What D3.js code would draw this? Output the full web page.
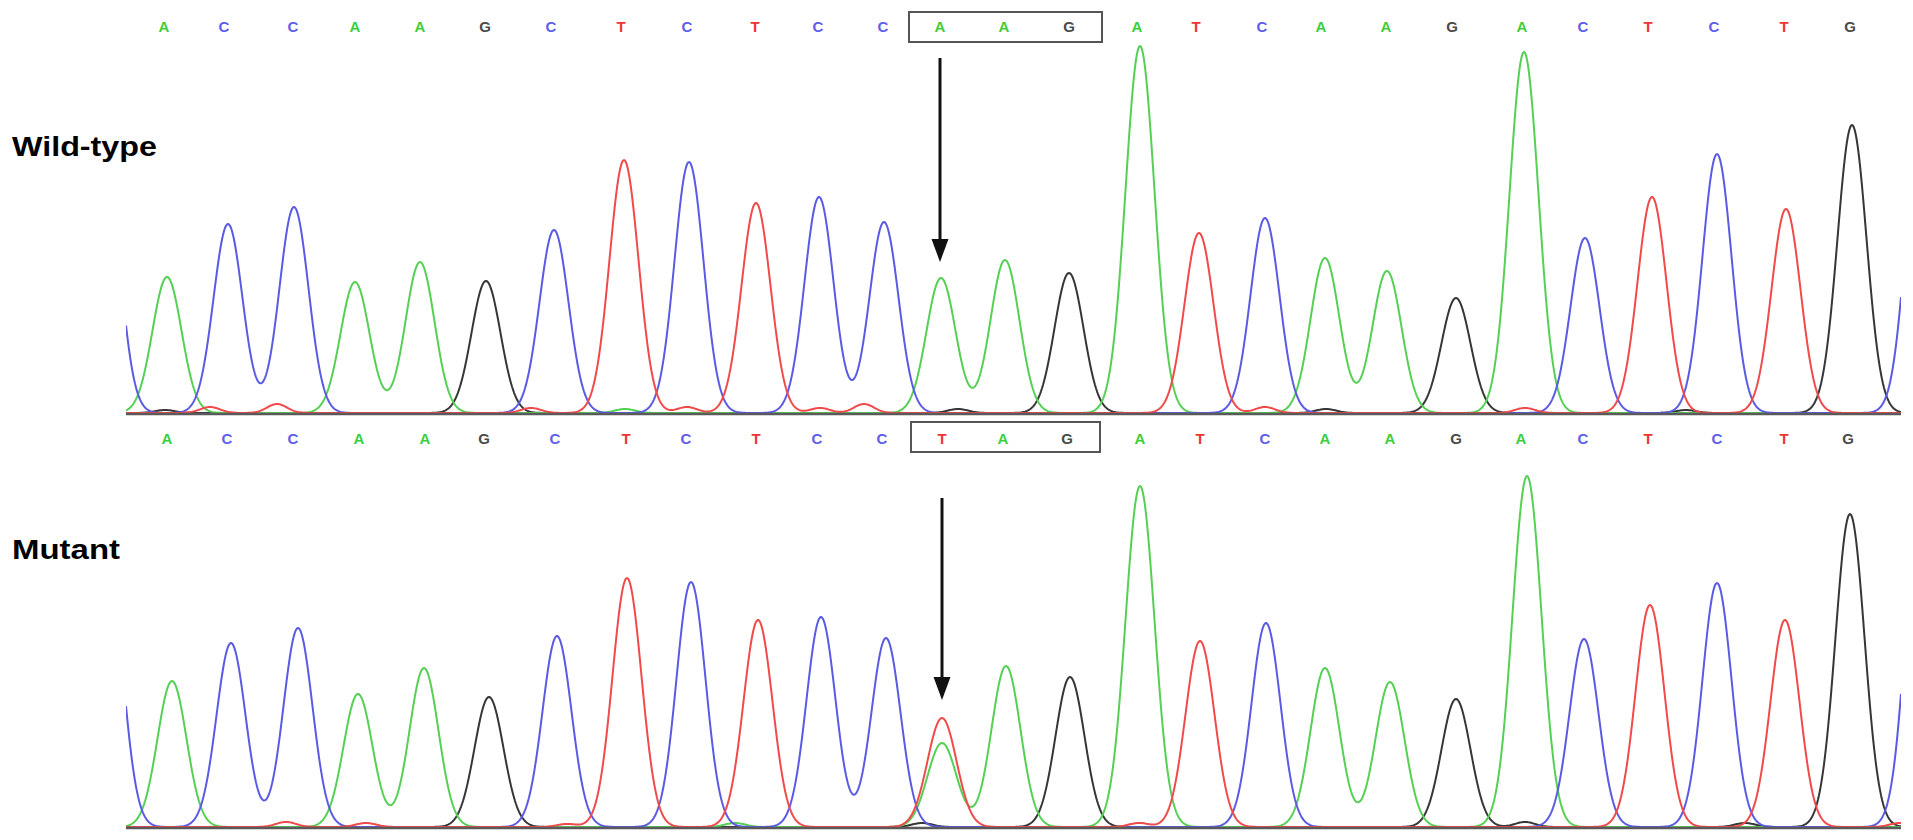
<!DOCTYPE html>
<html>
<head>
<meta charset="utf-8">
<style>
  body { margin: 0; background: #fff; }
  text { font-family: "Liberation Sans", Arial, sans-serif; }
</style>
</head>
<body>
<svg id="svg" width="1913" height="840"></svg>
<script src="https://cdn.jsdelivr.net/npm/d3@7"></script>
<script>

// base calls (same read, the mutant has A>T at call 13)
var wtBases  = "ACCAAGCTCTCCAAGATCAAGACTCTG".split("");
var mutBases = "ACCAAGCTCTCCTAGATCAAGACTCTG".split("");

// scan position of each base call label
var wtCalls  = [38, 98, 167, 229, 294, 359, 425, 495, 561, 629, 692, 757, 814, 878, 943, 1011, 1070, 1136, 1195, 1260, 1326, 1396, 1457, 1522, 1588, 1658, 1724];
var mutCalls = [41, 101, 167, 233, 299, 358, 429, 500, 560, 630, 691, 756, 816, 877, 941, 1014, 1074, 1139, 1199, 1264, 1330, 1395, 1457, 1522, 1591, 1658, 1722];

// scan position and signal height of the main peak under each call
var wtPeaks    = [41, 102, 168, 229, 294, 360, 428, 498, 563, 630, 693, 758, 815, 879, 943, 1014, 1073, 1139, 1199, 1261, 1330, 1398, 1459, 1526, 1591, 1660, 1726];
var wtHeights  = [136, 189, 206, 131, 151, 132, 183, 253, 251, 210, 216, 191, 135, 153, 140, 367, 180, 195, 155, 142, 115, 361, 175, 216, 259, 204, 288];
var mutPeaks   = [46, 105, 172, 232, 298, 363, 431, 501, 565, 632, 695, 760, 816, 880, 944, 1014, 1074, 1140, 1199, 1264, 1330, 1401, 1458, 1524, 1591, 1659, 1724];
var mutHeights = [146, 184, 199, 133, 159, 130, 191, 249, 245, 207, 210, 189, 109, 161, 150, 341, 186, 204, 159, 145, 128, 351, 188, 222, 244, 207, 313];

// extra peaks: [base, scan, height]  (edges of the window, heterozygous A under the T)
var wtExtra  = [["C", -21, 250], ["C", 1795, 300]];
var mutExtra = [["C", -18, 261], ["C", 1795, 345], ["A", 816, 84]];

// small background bumps: [base, scan, height]
var wtNoise  = [["T", 84, 6], ["T", 151, 9], ["G", 39, 3], ["T", 405, 5], ["A", 499, 4], ["T", 561, 6],
                ["T", 694, 5], ["T", 738, 9], ["G", 832, 4], ["T", 1139, 6], ["G", 1200, 4], ["T", 1399, 5], ["G", 1560, 3]];
var mutNoise = [["T", 160, 5], ["T", 240, 4], ["T", 441, 3], ["A", 609, 4], ["G", 796, 4], ["T", 1013, 4],
                ["G", 1399, 5], ["G", 1619, 4], ["T", 1774, 4]];

var peakWidth = 14.5, noiseWidth = 10;
var scanMax = 1775;

var baseColor  = {A: "#3ccf3c", C: "#5e5eea", G: "#4a4a4a", T: "#ee3434"};
var traceColor = {A: "#55d055", C: "#5a5ae4", G: "#363636", T: "#f04a4a"};

var panels = [
  {label: "Wild-type", bases: wtBases, calls: wtCalls, peaks: wtPeaks, heights: wtHeights, extra: wtExtra, noise: wtNoise,
   base: 413, letterY: 27, boxY: 12, arrowTop: 58, arrowTip: 262, labelY: 156, labelLen: 145},
  {label: "Mutant", bases: mutBases, calls: mutCalls, peaks: mutPeaks, heights: mutHeights, extra: mutExtra, noise: mutNoise,
   base: 827, letterY: 439, boxY: 422, arrowTop: 498, arrowTip: 700, labelY: 559, labelLen: 108}
];

var svg = d3.select("#svg");
var x = d3.scaleLinear().domain([0, scanMax]).range([126, 1901]);

svg.append("defs").append("clipPath").attr("id", "clip")
  .append("rect").attr("x", 126).attr("y", 0).attr("width", 1775).attr("height", 840);

var scans = d3.range(0, scanMax + 1, 1);

panels.forEach(function(p) {
  var y = d3.scaleLinear().domain([0, 400]).range([p.base, p.base - 400]);
  var g = svg.append("g");

  // collect gaussians per channel
  var bumps = {A: [], C: [], G: [], T: []};
  p.bases.forEach(function(b, i) { bumps[b].push([p.peaks[i], p.heights[i], peakWidth]); });
  p.extra.forEach(function(e) { bumps[e[0]].push([e[1], e[2], peakWidth]); });
  p.noise.forEach(function(e) { bumps[e[0]].push([e[1], e[2], noiseWidth]); });

  var line = d3.line().x(function(d) { return x(d[0]); }).y(function(d) { return y(d[1]); });

  var traces = g.append("g").attr("clip-path", "url(#clip)");
  ["G", "A", "C", "T"].forEach(function(ch) {
    var pts = scans.map(function(s) {
      var v = 0;
      bumps[ch].forEach(function(k) { v += k[1] * Math.exp(-(s - k[0]) * (s - k[0]) / (2 * k[2] * k[2])); });
      return [s, v];
    });
    traces.append("path").attr("d", line(pts))
      .attr("fill", "none").attr("stroke", traceColor[ch]).attr("stroke-width", 2)
      .attr("stroke-linejoin", "round");
  });

  // baseline
  g.append("line").attr("x1", x(0)).attr("x2", x(scanMax)).attr("y1", y(0) + 1).attr("y2", y(0) + 1)
    .attr("stroke", "#5a5a5a").attr("stroke-width", 2.5);

  // base call letters
  g.selectAll("text.call").data(p.bases).join("text").classed("call", true)
    .attr("x", function(d, i) { return x(p.calls[i]); })
    .attr("y", p.letterY + 5)
    .attr("text-anchor", "middle")
    .attr("font-size", 15).attr("font-weight", "bold")
    .attr("fill", function(d) { return baseColor[d]; })
    .text(function(d) { return d; });

  // codon box around calls 13-15
  var bx0 = x(p.calls[12]) - 31, bx1 = x(p.calls[14]) + 33;
  g.append("rect").attr("x", bx0).attr("y", p.boxY).attr("width", bx1 - bx0).attr("height", 30)
    .attr("fill", "none").attr("stroke", "#555").attr("stroke-width", 2);

  // arrow pointing at the mutated position
  var ax = x(p.calls[12]);
  g.append("line").attr("x1", ax).attr("x2", ax).attr("y1", p.arrowTop).attr("y2", p.arrowTip - 18)
    .attr("stroke", "#111").attr("stroke-width", 3);
  g.append("path")
    .attr("d", "M" + (ax - 8.5) + "," + (p.arrowTip - 23) + "L" + (ax + 8.5) + "," + (p.arrowTip - 23) + "L" + ax + "," + p.arrowTip + "Z")
    .attr("fill", "#111");

  // panel label
  g.append("text").attr("x", 12).attr("y", p.labelY)
    .attr("font-size", 28).attr("font-weight", "bold").attr("fill", "#000")
    .attr("textLength", p.labelLen).attr("lengthAdjust", "spacingAndGlyphs")
    .text(p.label);
});

</script>
</body>
</html>
